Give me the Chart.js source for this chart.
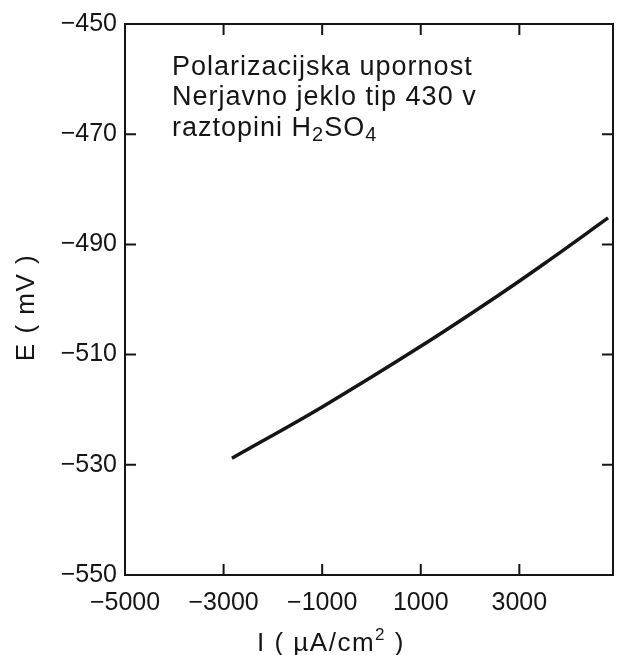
<!DOCTYPE html>
<html>
<head>
<meta charset="utf-8">
<script src="https://cdn.jsdelivr.net/npm/chart.js@4/dist/chart.umd.min.js"></script>
<style>
html,body{margin:0;padding:0;background:#fff;}
#wrap{position:relative;width:617px;height:655px;}
</style>
</head>
<body>
<div id="wrap"><canvas id="c" width="617" height="655"></canvas></div>
<script>
// ---- data ----
const currentI = [-2830, -1000, 1000, 2600, 3600, 4800];      // µA/cm²
const potentialE = [-528.8, -519.5, -508.5, -499.1, -492.9, -485.2]; // mV
const xTickValues = [-5000, -3000, -1000, 1000, 3000];
const yTickValues = [-550, -530, -510, -490, -470, -450];
const xTitleParts = ['I ( µA/cm', '2', ' )'];
const yTitle = 'E ( mV )';
const noteLines = ['Polarizacijska upornost', 'Nerjavno jeklo tip 430 v'];
const noteLine3 = [['raztopini H', false], ['2', true], ['SO', false], ['4', true]];

const ink = '#151515';
const FONT = '"Liberation Sans", Arial, sans-serif';
const fmt = v => (v < 0 ? '\u2212' + Math.abs(v) : String(v));

function drawRuns(ctx, runs, x, y, big, small, shift) {
  runs.forEach(([t, sub]) => {
    ctx.font = (sub ? small : big) + 'px ' + FONT;
    ctx.fillText(t, x, y + (sub ? shift : 0));
    x += ctx.measureText(t).width;
  });
}

const framePlugin = {
  id: 'frame',
  afterDraw(chart) {
    const {ctx, chartArea: a, scales: {x, y}} = chart;
    ctx.save();
    ctx.strokeStyle = ink;
    ctx.lineWidth = 2;
    ctx.strokeRect(a.left, a.top, a.right - a.left, a.bottom - a.top);
    const tl = 11;
    ctx.beginPath();
    xTickValues.forEach(v => {
      if (v <= x.min || v >= x.max) return;
      const px = x.getPixelForValue(v);
      ctx.moveTo(px, a.bottom); ctx.lineTo(px, a.bottom - tl);
      ctx.moveTo(px, a.top); ctx.lineTo(px, a.top + tl);
    });
    yTickValues.forEach(v => {
      if (v <= y.min || v >= y.max) return;
      const py = y.getPixelForValue(v);
      ctx.moveTo(a.left, py); ctx.lineTo(a.left + tl, py);
      ctx.moveTo(a.right, py); ctx.lineTo(a.right - tl, py);
    });
    ctx.stroke();
    // annotation text
    ctx.fillStyle = ink;
    ctx.font = '27px ' + FONT;
    try { ctx.letterSpacing = '1px'; } catch (e) {}
    ctx.textAlign = 'left';
    ctx.textBaseline = 'alphabetic';
    const nx = a.left + 47;
    ctx.fillText(noteLines[0], nx, a.top + 51);
    ctx.fillText(noteLines[1], nx, a.top + 81);
    drawRuns(ctx, noteLine3, nx, a.top + 112, 27, 20, 5);
    // x axis title
    try { ctx.letterSpacing = '1.5px'; } catch (e) {}
    ctx.textAlign = 'left';
    ctx.textBaseline = 'alphabetic';
    let tx = a.left + 132, ty = a.bottom + 76;
    ctx.font = '26px ' + FONT;
    ctx.fillText(xTitleParts[0], tx, ty); tx += ctx.measureText(xTitleParts[0]).width;
    ctx.font = '17px ' + FONT;
    ctx.fillText(xTitleParts[1], tx, ty - 11); tx += ctx.measureText(xTitleParts[1]).width;
    ctx.font = '26px ' + FONT;
    ctx.fillText(xTitleParts[2], tx, ty);
    // y axis title
    ctx.translate(27, (a.top + a.bottom) / 2 + 8);
    ctx.rotate(-Math.PI / 2);
    ctx.textAlign = 'center';
    ctx.textBaseline = 'middle';
    ctx.font = '26px ' + FONT;
    ctx.fillText(yTitle, 0, 0);
    ctx.restore();
  }
};

new Chart(document.getElementById('c'), {
  type: 'line',
  data: {
    datasets: [{
      data: currentI.map((v, i) => ({x: v, y: potentialE[i]})),
      borderColor: ink,
      borderWidth: 3.5,
      pointRadius: 0,
      tension: 0.4,
      fill: false
    }]
  },
  options: {
    responsive: false,
    animation: false,
    layout: {padding: {top: 24, right: 4, left: 0, bottom: 0}},
    plugins: {legend: {display: false}, tooltip: {enabled: false}},
    scales: {
      x: {
        type: 'linear',
        min: -5000,
        max: 4900,
        afterBuildTicks: s => { s.ticks = xTickValues.map(v => ({value: v})); },
        afterFit: s => { s.height = 80; },
        grid: {display: false, drawTicks: false},
        border: {display: false},
        ticks: {
          padding: 13,
          color: ink,
          font: {family: FONT, size: 25},
          autoSkip: false,
          maxRotation: 0,
          callback: v => fmt(v)
        }
      },
      y: {
        type: 'linear',
        min: -550,
        max: -450,
        afterBuildTicks: s => { s.ticks = yTickValues.map(v => ({value: v})); },
        afterFit: s => { s.width = 125; },
        grid: {display: false, drawTicks: false},
        border: {display: false},
        ticks: {
          padding: 8,
          color: ink,
          font: {family: FONT, size: 25},
          callback: v => fmt(v)
        }
      }
    }
  },
  plugins: [framePlugin]
});
</script>
</body>
</html>
